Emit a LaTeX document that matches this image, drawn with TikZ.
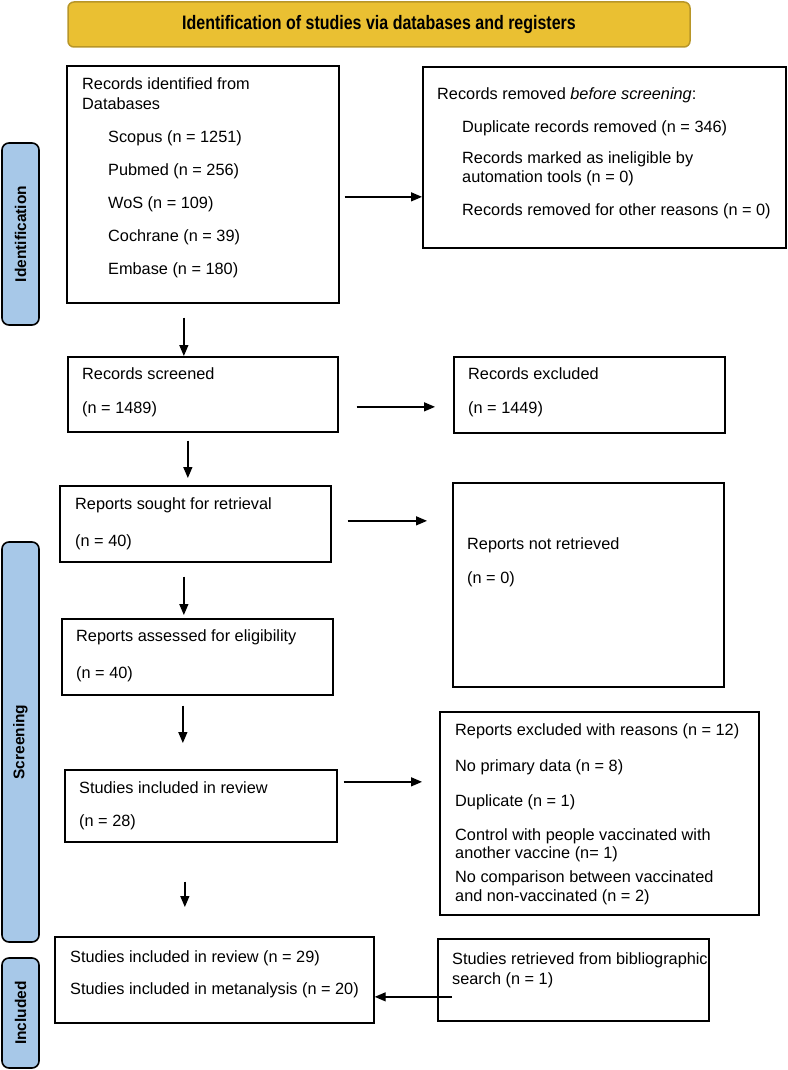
\documentclass[tikz,border=0pt]{standalone}
\usepackage{fontspec}
\setmainfont{Liberation Sans}
\newfontfamily\narrowfont[FakeStretch=0.82]{Liberation Sans}
\usetikzlibrary{arrows.meta,calc}

\definecolor{bannergold}{RGB}{234,192,50}
\definecolor{bannerline}{RGB}{184,150,40}
\definecolor{phaseblue}{RGB}{167,200,232}

\tikzset{
	box/.style = {draw, line width = 1.7pt, anchor = north west, inner sep = 0pt},
	txt/.style = {anchor = north west, align = left, inner sep = 0pt, font = \fontsize{16.3}{20}\selectfont},
	phase/.style = {draw, line width = 1.6pt, fill = phaseblue, rounded corners = 7pt, rotate = 90,
		minimum height = 37pt, font = \fontsize{15.5}{18}\selectfont\bfseries},
	arr/.style = {-{Triangle[length = 11pt, width = 9pt]}, line width = 1.3pt}
}

\begin{document}
\begin{tikzpicture}[x = 1pt, y = -1pt]
		\useasboundingbox (0, 0) rectangle (787, 1070);
		% banner and phases
		\node[draw = bannerline, fill = bannergold, line width = 1.5pt, rounded corners = 6pt,
			minimum width = 622pt, minimum height = 45pt, font = \narrowfont\fontsize{19.5}{22}\selectfont\bfseries]
			(head) at (379, 24.5) {Identification of studies via databases and registers};
		\node[phase, minimum width = 182pt] (phid) at (20.5, 234) {Identification};
		\node[phase, minimum width = 400pt] (phscr) at (20.5, 742) {Screening};
		\node[phase, minimum width = 110pt] (phinc) at (20.5, 1013) {Included};

		% boxes
		\node[box, minimum width = 272pt, minimum height = 237pt] (ident) at (66, 65) {};
		\node[box, minimum width = 363pt, minimum height = 181pt] (removed) at (422, 66) {};
		\node[box, minimum width = 270pt, minimum height = 75pt] (screened) at (67, 356) {};
		\node[box, minimum width = 271pt, minimum height = 76pt] (excluded) at (453, 356) {};
		\node[box, minimum width = 271pt, minimum height = 76pt] (sought) at (59, 485) {};
		\node[box, minimum width = 271pt, minimum height = 204pt] (notretr) at (452, 482) {};
		\node[box, minimum width = 271pt, minimum height = 76pt] (assessed) at (61, 618) {};
		\node[box, minimum width = 272pt, minimum height = 72pt] (review) at (64, 769) {};
		\node[box, minimum width = 319pt, minimum height = 203pt] (reasons) at (439, 711) {};
		\node[box, minimum width = 319pt, minimum height = 86pt] (final) at (54, 936) {};
		\node[box, minimum width = 271pt, minimum height = 82pt] (biblio) at (437, 938) {};

		% texts
		\node[txt] (identtxt) at (82, 77) {Records identified from\\Databases\\[13pt]
			\hspace*{26pt}Scopus (n = 1251)\\[13pt]\hspace*{26pt}Pubmed (n = 256)\\[13pt]
			\hspace*{26pt}WoS (n = 109)\\[13pt]\hspace*{26pt}Cochrane (n = 39)\\[13pt]
			\hspace*{26pt}Embase (n = 180)};
		\node[txt] (removedtxt) at (437, 87) {Records removed \textit{before screening}:\\[13pt]
			\hspace*{25pt}Duplicate records removed (n = 346)\\[11pt]
			\hspace*{25pt}Records marked as ineligible by\\[-1pt]
			\hspace*{25pt}automation tools (n = 0)\\[13pt]
			\hspace*{25pt}Records removed for other reasons (n = 0)};
		\node[txt] (screenedtxt) at (82, 367) {Records screened\\[14pt](n = 1489)};
		\node[txt] (excludedtxt) at (468, 367) {Records excluded\\[14pt](n = 1449)};
		\node[txt] (soughttxt) at (75, 497) {Reports sought for retrieval\\[17pt](n = 40)};
		\node[txt] (notretrtxt) at (467, 537) {Reports not retrieved\\[14pt](n = 0)};
		\node[txt] (assessedtxt) at (76, 629) {Reports assessed for eligibility\\[17pt](n = 40)};
		\node[txt] (reviewtxt) at (79, 781) {Studies included in review\\[13pt](n = 28)};
		\node[txt] (reasonstxt) at (455, 723) {Reports excluded with reasons (n = 12)\\[16pt]
			No primary data (n = 8)\\[15pt]Duplicate (n = 1)\\[14pt]
			Control with people vaccinated with\\[-2pt]another vaccine (n= 1)\\[4pt]
			No comparison between vaccinated\\[-1pt]and non-vaccinated (n = 2)};
		\node[txt] (finaltxt) at (70, 950) {Studies included in review (n = 29)\\[12pt]
			Studies included in metanalysis (n = 20)};
		\node[txt] (bibliotxt) at (452, 952) {Studies retrieved from bibliographic\\search (n = 1)};

		% arrows
		\draw[arr] ($(ident.east) + (5, 12.5)$) -- ($(removed.west |- ident.east) + (0, 12.5)$);
		\draw[arr] ($(ident.south) + (-19, 14)$) -- ($(ident.south |- screened.north) + (-19, 0)$);
		\draw[arr] ($(screened.east) + (18, 12.5)$) -- ($(excluded.west |- screened.east) + (-18, 12.5)$);
		\draw[arr] ($(screened.south) + (-15, 8)$) -- ($(screened.south |- sought.north) + (-15, -7)$);
		\draw[arr] ($(sought.east) + (16, -3)$) -- ($(notretr.west |- sought.east) + (-25, -3)$);
		\draw[arr] ($(sought.south) + (-11.5, 14)$) -- ($(sought.south |- assessed.north) + (-11.5, -3)$);
		\draw[arr] ($(assessed.south) + (-14.5, 10)$) -- ($(assessed.south |- review.north) + (-14.5, -26)$);
		\draw[arr] ($(review.east) + (6, -24)$) -- ($(reasons.west |- review.east) + (-17, -24)$);
		\draw[arr] ($(review.south) + (-16, 39)$) -- ($(review.south |- final.north) + (-16, -29)$);
		\draw[arr] ($(biblio.west) + (15, 17)$) -- ($(final.east |- biblio.west) + (0, 17)$);
	\end{tikzpicture}
\end{document}
